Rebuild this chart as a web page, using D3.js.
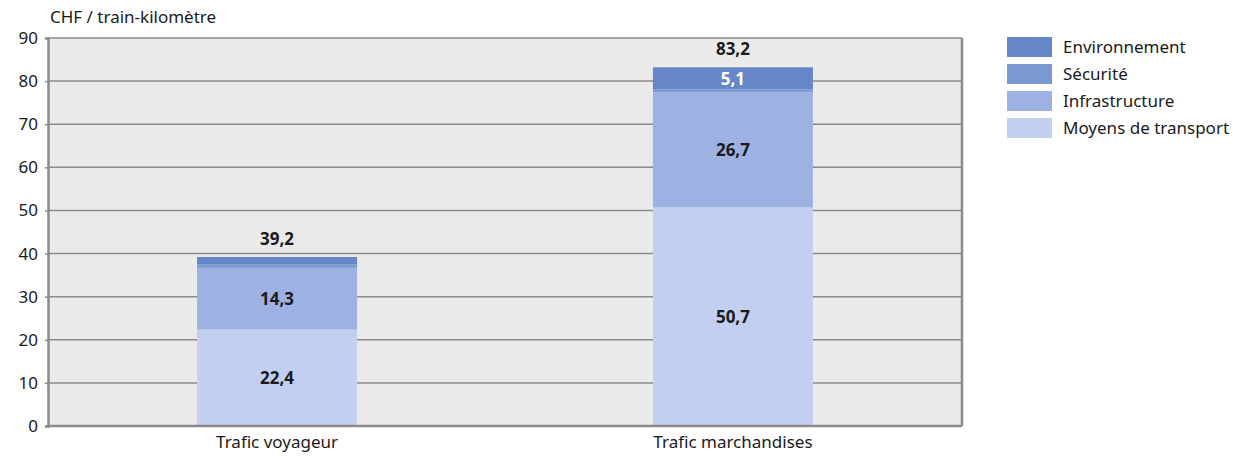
<!DOCTYPE html>
<html>
<head>
<meta charset="utf-8">
<script src="https://cdn.jsdelivr.net/npm/d3@7"></script>
<style>
  body { margin: 0; background: #fff; }
  svg text { font-family: "Noto Sans", "Open Sans", sans-serif; fill: #1a1a1a; }
</style>
</head>
<body>
<div id="chart"></div>
<script>

const categories = ["Trafic voyageur", "Trafic marchandises"];
const series = ["Moyens de transport", "Infrastructure", "Sécurité", "Environnement"];
const moyens = [22.4, 50.7];
const infra = [14.3, 26.7];
const securite = [0.8, 0.7];
const environnement = [1.7, 5.1];
const totals = [39.2, 83.2];
const yTicks = [0, 10, 20, 30, 40, 50, 60, 70, 80, 90];

const colors = {
    "Moyens de transport": "#c2cff0",
    "Infrastructure": "#9eb1e3",
    "Sécurité": "#7a98d2",
    "Environnement": "#6587c8"
};

const width = 1233, height = 456;
const fs = 17;
const svg = d3.select("#chart").append("svg")
    .attr("width", width)
    .attr("height", height);

const plot = { left: 48, right: 962, top: 38, bottom: 426 };

const y = d3.scaleLinear().domain([0, 90]).range([plot.bottom, plot.top]);
const x = d3.scaleBand()
    .domain(categories)
    .range([plot.left, plot.right])
    .paddingInner(0.649)
    .paddingOuter(0.327);

// data table for stack
const table = categories.map((c, i) => ({
    cat: c,
    "Moyens de transport": moyens[i],
    "Infrastructure": infra[i],
    "Sécurité": securite[i],
    "Environnement": environnement[i]
}));
const stacked = d3.stack().keys(series)(table);

// plot background
svg.append("rect")
    .attr("x", plot.left).attr("y", plot.top)
    .attr("width", plot.right - plot.left)
    .attr("height", plot.bottom - plot.top)
    .attr("fill", "#eaeaea");

// gridlines
svg.selectAll("line.grid")
    .data(yTicks.filter(d => d > 0))
    .enter().append("line")
    .attr("class", "grid")
    .attr("x1", plot.left).attr("x2", plot.right)
    .attr("y1", d => y(d)).attr("y2", d => y(d))
    .attr("stroke", "#8a8a8a")
    .attr("stroke-width", 1.5);

// bars
svg.selectAll("g.layer")
    .data(stacked)
    .enter().append("g")
    .attr("class", "layer")
    .attr("fill", d => colors[d.key])
    .selectAll("rect")
    .data(d => d)
    .enter().append("rect")
    .attr("x", d => x(d.data.cat))
    .attr("width", x.bandwidth())
    .attr("y", d => y(d[1]))
    .attr("height", d => y(d[0]) - y(d[1]));

// frame: right border and axes
svg.append("line")
    .attr("x1", plot.right).attr("x2", plot.right)
    .attr("y1", plot.top).attr("y2", plot.bottom)
    .attr("stroke", "#8a8a8a").attr("stroke-width", 2.5);

const yAxis = d3.axisLeft(y).tickValues(yTicks).tickSize(3).tickPadding(7);
svg.append("g")
    .attr("transform", `translate(${plot.left},0)`)
    .call(yAxis)
    .call(g => g.select(".domain").attr("stroke", "#8a8a8a").attr("stroke-width", 2.5))
    .call(g => g.selectAll(".tick line").attr("stroke", "#8a8a8a").attr("stroke-width", 1.5))
    .call(g => g.selectAll(".tick text").attr("font-size", fs).attr("fill", "#1a1a1a")
        .attr("font-family", "Noto Sans, sans-serif"));

const xAxis = d3.axisBottom(x).tickSize(0).tickPadding(10);
svg.append("g")
    .attr("transform", `translate(0,${plot.bottom})`)
    .call(xAxis)
    .call(g => g.select(".domain").attr("d", `M${plot.left},0H${plot.right}`)
        .attr("stroke", "#8a8a8a").attr("stroke-width", 2.5))
    .call(g => g.selectAll(".tick text").attr("font-size", fs).attr("fill", "#1a1a1a")
        .attr("font-family", "Noto Sans, sans-serif"));

// axis title
svg.append("text")
    .attr("x", 50).attr("y", 23)
    .attr("font-size", fs)
    .text("CHF / train-kilomètre");

// value labels
const fmt = v => d3.format(".1f")(v).replace(".", ",");

categories.forEach((c, i) => {
    const cx = x(c) + x.bandwidth() / 2;
    // moyens
    svg.append("text")
        .attr("x", cx).attr("y", y(moyens[i] / 2) + 6)
        .attr("text-anchor", "middle").attr("font-size", fs).attr("font-weight", "bold")
        .text(fmt(moyens[i]));
    // infrastructure
    svg.append("text")
        .attr("x", cx).attr("y", y(moyens[i] + infra[i] / 2) + 6)
        .attr("text-anchor", "middle").attr("font-size", fs).attr("font-weight", "bold")
        .text(fmt(infra[i]));
    // total
    svg.append("text")
        .attr("x", cx).attr("y", y(totals[i]) - 12)
        .attr("text-anchor", "middle").attr("font-size", fs).attr("font-weight", "bold")
        .text(fmt(totals[i]));
});

// environnement label on the freight bar
svg.append("text")
    .attr("x", x(categories[1]) + x.bandwidth() / 2)
    .attr("y", y(totals[1]) + 18)
    .attr("text-anchor", "middle").attr("font-size", fs).attr("font-weight", "bold")
    .style("fill", "#fff")
    .text(fmt(environnement[1]));

// legend
const legendItems = series.slice().reverse();
const legend = svg.selectAll("g.legend")
    .data(legendItems)
    .enter().append("g")
    .attr("class", "legend")
    .attr("transform", (d, i) => `translate(1007,${37 + i * 27})`);

legend.append("rect")
    .attr("width", 45).attr("height", 20)
    .attr("fill", d => colors[d]);

legend.append("text")
    .attr("x", 56).attr("y", 16)
    .attr("font-size", fs)
    .text(d => d);

</script>
</body>
</html>
